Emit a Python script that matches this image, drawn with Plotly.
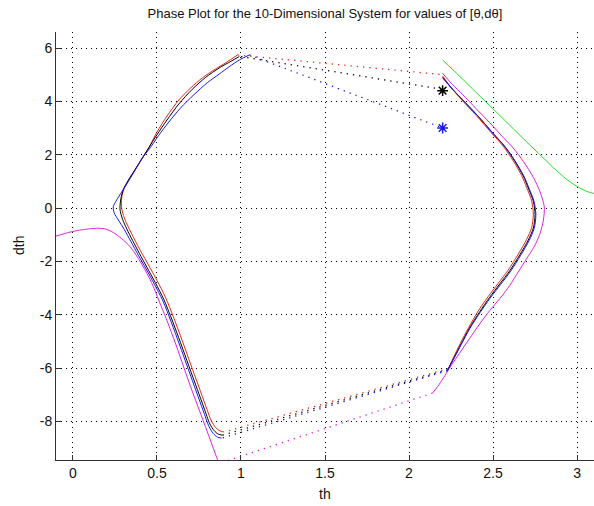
import plotly.graph_objects as go

# ---- trajectory data: theta (th) and angular velocity (dth) ----
# right-hand arcs (th decreasing after the turn at dth = 0)
th_k_right = [2.20, 2.26, 2.32, 2.41, 2.50, 2.57, 2.63, 2.68, 2.71, 2.74, 2.75, 2.74, 2.71, 2.66, 2.60, 2.54, 2.48, 2.42, 2.36, 2.31, 2.265, 2.23]
dth_k_right = [4.90, 4.45, 4.05, 3.45, 2.80, 2.30, 1.75, 1.20, 0.75, 0.25, -0.25, -0.75, -1.20, -1.75, -2.35, -2.85, -3.35, -3.90, -4.50, -5.10, -5.65, -6.07]
th_r_right = [2.20, 2.255, 2.31, 2.40, 2.49, 2.56, 2.62, 2.67, 2.70, 2.73, 2.74, 2.73, 2.70, 2.65, 2.59, 2.53, 2.47, 2.41, 2.355, 2.305, 2.265, 2.235]
dth_r_right = [4.95, 4.48, 4.08, 3.47, 2.82, 2.32, 1.77, 1.22, 0.77, 0.27, -0.23, -0.73, -1.18, -1.73, -2.33, -2.83, -3.33, -3.88, -4.48, -5.08, -5.60, -6.02]
th_b_right = [2.20, 2.262, 2.323, 2.413, 2.503, 2.574, 2.635, 2.685, 2.715, 2.745, 2.755, 2.745, 2.715, 2.665, 2.605, 2.545, 2.484, 2.423, 2.362, 2.311, 2.265, 2.228]
dth_b_right = [4.88, 4.43, 4.03, 3.43, 2.78, 2.28, 1.73, 1.18, 0.73, 0.23, -0.27, -0.77, -1.22, -1.77, -2.37, -2.87, -3.37, -3.92, -4.52, -5.12, -5.67, -6.10]
th_m_right = [2.20, 2.26, 2.32, 2.40, 2.48, 2.56, 2.62, 2.68, 2.74, 2.78, 2.805, 2.80, 2.78, 2.745, 2.70, 2.65, 2.60, 2.54, 2.48, 2.42, 2.36, 2.30, 2.25, 2.205, 2.17, 2.14]
dth_m_right = [5.05, 4.62, 4.25, 3.72, 3.20, 2.65, 2.25, 1.75, 1.15, 0.60, 0.05, -0.45, -0.95, -1.45, -1.90, -2.40, -2.90, -3.40, -3.85, -4.35, -4.90, -5.45, -5.92, -6.37, -6.70, -6.94]

# left-hand arcs (from the bottom up to the top)
th_k_left = [0.89, 0.865, 0.84, 0.815, 0.78, 0.74, 0.69, 0.64, 0.59, 0.54, 0.49, 0.44, 0.395, 0.355, 0.32, 0.295, 0.28, 0.285, 0.30, 0.33, 0.37, 0.41, 0.45, 0.50, 0.56, 0.63, 0.71, 0.79, 0.87, 0.94, 0.99]
dth_k_left = [-8.52, -8.48, -8.35, -8.10, -7.50, -6.80, -5.93, -5.05, -4.20, -3.42, -2.80, -2.22, -1.70, -1.22, -0.78, -0.42, -0.05, 0.35, 0.70, 1.05, 1.45, 1.85, 2.25, 2.75, 3.30, 3.90, 4.45, 4.90, 5.25, 5.50, 5.68]
th_r_left = [0.90, 0.875, 0.85, 0.825, 0.79, 0.75, 0.70, 0.65, 0.60, 0.55, 0.50, 0.45, 0.405, 0.365, 0.33, 0.305, 0.29, 0.29, 0.305, 0.335, 0.375, 0.415, 0.455, 0.50, 0.56, 0.63, 0.70, 0.77, 0.84, 0.91, 0.98]
dth_r_left = [-8.40, -8.36, -8.24, -8.00, -7.42, -6.72, -5.85, -4.97, -4.12, -3.34, -2.72, -2.14, -1.64, -1.16, -0.72, -0.36, -0.02, 0.38, 0.73, 1.08, 1.48, 1.88, 2.30, 2.85, 3.45, 4.05, 4.50, 4.88, 5.18, 5.45, 5.74]
th_b_left = [0.885, 0.86, 0.835, 0.81, 0.775, 0.735, 0.685, 0.635, 0.585, 0.535, 0.485, 0.435, 0.39, 0.345, 0.305, 0.27, 0.245, 0.24, 0.26, 0.29, 0.33, 0.37, 0.41, 0.455, 0.51, 0.57, 0.64, 0.72, 0.80, 0.87, 0.93, 0.99, 1.05]
dth_b_left = [-8.63, -8.59, -8.46, -8.20, -7.60, -6.90, -6.02, -5.14, -4.28, -3.48, -2.86, -2.28, -1.78, -1.26, -0.80, -0.45, -0.18, 0.05, 0.30, 0.60, 1.00, 1.42, 1.85, 2.22, 2.72, 3.22, 3.75, 4.25, 4.70, 5.02, 5.30, 5.55, 5.74]
th_m_left = [-0.11, -0.05, 0.00, 0.05, 0.10, 0.15, 0.19, 0.24, 0.29, 0.34, 0.39, 0.44, 0.475, 0.51, 0.555, 0.60, 0.65, 0.70, 0.75, 0.80, 0.855, 0.875]
dth_m_left = [-1.07, -0.96, -0.88, -0.82, -0.78, -0.76, -0.78, -0.92, -1.15, -1.45, -1.90, -2.45, -2.90, -3.45, -4.15, -4.90, -5.80, -6.70, -7.55, -8.40, -9.35, -9.70]

# green trajectory
th_g = [2.20, 2.30, 2.40, 2.50, 2.60, 2.70, 2.80, 2.87, 2.92, 2.97, 3.02, 3.06, 3.11]
dth_g = [5.55, 4.95, 4.33, 3.72, 3.10, 2.48, 1.87, 1.45, 1.17, 0.93, 0.74, 0.62, 0.53]

# jumps between arcs (drawn dotted): [start, end]
jump_top_r = ([0.98, 2.20], [5.74, 5.00])
jump_top_k = ([1.00, 2.20], [5.68, 4.45])
jump_top_b = ([1.05, 2.20], [5.74, 3.00])
jump_bot_r = ([2.235, 0.90], [-6.02, -8.40])
jump_bot_k = ([2.23, 0.89], [-6.07, -8.52])
jump_bot_b = ([2.228, 0.885], [-6.10, -8.63])
jump_bot_m = ([2.14, 0.86], [-6.94, -9.60])

# initial conditions
start_k = ([2.20], [4.40])
start_b = ([2.20], [3.00])

RED, BLACK, BLUE, MAG, GREEN = "#e8281a", "#000000", "#1a1ae6", "#e020e0", "#22dd22"

fig = go.Figure()

def solid(x, y, c):
    fig.add_trace(go.Scatter(x=x, y=y, mode="lines",
                             line=dict(color=c, width=1, shape="spline", smoothing=0.8),
                             hoverinfo="skip", showlegend=False))

def dotted(seg, c):
    fig.add_trace(go.Scatter(x=seg[0], y=seg[1], mode="lines",
                             line=dict(color=c, width=1.3, dash="1.3px,5px"),
                             hoverinfo="skip", showlegend=False))

solid(th_g, dth_g, GREEN)
solid(th_m_left, dth_m_left, MAG)
solid(th_m_right, dth_m_right, MAG)
dotted(jump_bot_m, MAG)

for (tl, dl, tr, dr, jt, jb, c) in [
        (th_r_left, dth_r_left, th_r_right, dth_r_right, jump_top_r, jump_bot_r, RED),
        (th_k_left, dth_k_left, th_k_right, dth_k_right, jump_top_k, jump_bot_k, BLACK),
        (th_b_left, dth_b_left, th_b_right, dth_b_right, jump_top_b, jump_bot_b, BLUE)]:
    solid(tl, dl, c)
    solid(tr, dr, c)
    dotted(jt, c)
    dotted(jb, c)

for pt, c in [(start_k, BLACK), (start_b, BLUE)]:
    fig.add_trace(go.Scatter(x=pt[0], y=pt[1], mode="markers",
                             marker=dict(symbol="asterisk", size=9, line=dict(color=c, width=1.5)),
                             hoverinfo="skip", showlegend=False))

FONT = "Liberation Sans, Arial, sans-serif"
axis_common = dict(showgrid=True, gridcolor="#000000", gridwidth=1, griddash="1px,4px",
                   zeroline=False, showline=True, linecolor="#333333", linewidth=1,
                   ticks="inside", ticklen=5, tickcolor="#333333", mirror=False,
                   tickfont=dict(family=FONT, size=14, color="#111111"))

fig.update_layout(
    width=594, height=506,
    margin=dict(l=56, r=0, t=32, b=46),
    paper_bgcolor="white", plot_bgcolor="white",
    showlegend=False,
    title=dict(text="Phase Plot for the 10-Dimensional System for values of [θ,dθ]",
               x=0.547, xanchor="center", y=1 - 13 / 506, yanchor="middle", yref="container",
               font=dict(family=FONT, size=13, color="#111111")),
    xaxis=dict(range=[-0.101, 3.101], tickvals=[0, 0.5, 1, 1.5, 2, 2.5, 3],
               ticktext=["0", "0.5", "1", "1.5", "2", "2.5", "3"], **axis_common),
    yaxis=dict(range=[-9.45, 6.6], tickvals=[-8, -6, -4, -2, 0, 2, 4, 6],
               ticktext=["-8", "-6", "-4", "-2", "0", "2", "4", "6"], **axis_common),
    annotations=[
        dict(text="th", xref="paper", yref="paper", x=0.5, y=0, yshift=-34,
             xanchor="center", yanchor="middle", showarrow=False,
             font=dict(family=FONT, size=14, color="#111111")),
        dict(text="dth", xref="paper", yref="paper", x=0, y=0.5, xshift=-37,
             xanchor="center", yanchor="middle", textangle=-90, showarrow=False,
             font=dict(family=FONT, size=14, color="#111111")),
    ],
)

fig.write_html("out.html")
